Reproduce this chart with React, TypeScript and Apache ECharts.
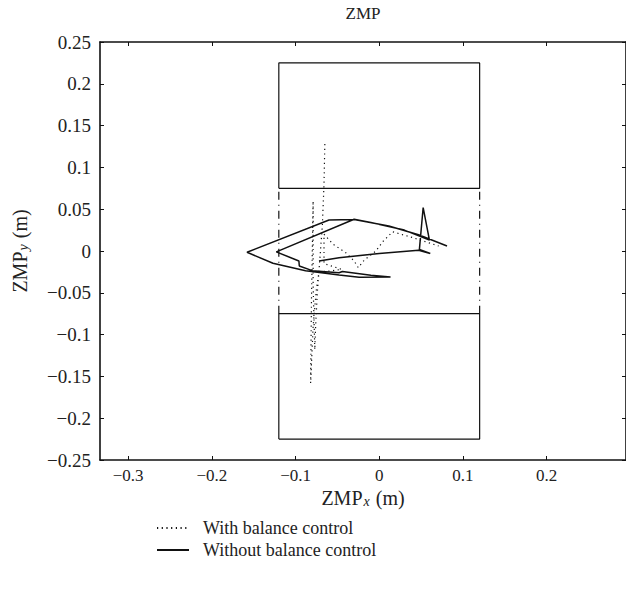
import { useEffect, useRef } from 'react';
import * as echarts from 'echarts';

// Axis extents and tick values (metres)
const xRange = [-0.3337, 0.2949];
const yRange = [-0.25, 0.25];
const xTicks = [-0.3, -0.2, -0.1, 0, 0.1, 0.2];
const yTicks = [-0.25, -0.2, -0.15, -0.1, -0.05, 0, 0.05, 0.1, 0.15, 0.2, 0.25];

// Foot outlines
const footTop = [[-0.12, 0.075], [0.12, 0.075], [0.12, 0.225], [-0.12, 0.225], [-0.12, 0.075]];
const footBottom = [[-0.12, -0.225], [0.12, -0.225], [0.12, -0.075], [-0.12, -0.075], [-0.12, -0.225]];
const supportLeft = [[-0.12, -0.075], [-0.12, 0.075]];
const supportRight = [[0.12, -0.075], [0.12, 0.075]];

// ZMP trajectories
const withControl = [
  [-0.065, 0.128], [-0.066, 0.08], [-0.068, 0.03], [-0.071, -0.01], [-0.074, -0.05],
  [-0.076, -0.09], [-0.077, -0.118], [-0.078, -0.08], [-0.079, -0.04], [-0.079, 0.0],
  [-0.079, 0.06], [-0.08, 0.0], [-0.081, -0.06], [-0.082, -0.158], [-0.079, -0.09],
  [-0.075, -0.045], [-0.072, -0.025], [-0.06, -0.024], [-0.045, -0.022], [-0.066, -0.015],
  [-0.066, 0.02], [-0.055, 0.008], [-0.04, -0.002], [-0.03, -0.012], [-0.025, -0.02],
  [-0.018, -0.011], [-0.004, 0.0], [0.005, 0.012], [0.016, 0.023], [0.04, 0.016], [0.071, 0.006],
];
const withoutControl = [
  [-0.072, -0.012], [-0.048, -0.008], [0.0, -0.003], [0.047, 0.001], [0.061, -0.003],
  [0.048, 0.002], [0.0525, 0.052], [0.06, 0.013], [0.03, 0.025], [-0.01, 0.034],
  [-0.03, 0.038], [-0.123, -0.001], [-0.096, -0.012], [-0.0955, -0.018], [-0.08, -0.0235],
  [-0.048, -0.026], [-0.044, -0.0245], [-0.01, -0.029], [0.0135, -0.031], [-0.024, -0.0315],
  [-0.048, -0.0286], [-0.088, -0.0235], [-0.127, -0.0147], [-0.158, -0.0015], [-0.06, 0.037],
  [-0.03, 0.0378], [0.0115, 0.03], [0.047, 0.0195], [0.081, 0.006],
];

const FONT = '"Liberation Serif", "DejaVu Serif", serif';
const INK = '#111';
const TXT = '#222';
const fmt = (v: number) => String(v).replace('-', '\u2212');

export default function App() {
  const ref = useRef<HTMLDivElement>(null);
  useEffect(() => {
    if (!ref.current) return;
    const chart = echarts.init(ref.current, undefined, { renderer: 'svg' });
    const rich = {
      a: { fontFamily: FONT, fontSize: 20, color: TXT, lineHeight: 20, verticalAlign: 'middle' as const },
      s: { fontFamily: FONT, fontSize: 14, fontStyle: 'italic' as const, color: TXT, lineHeight: 14, verticalAlign: 'bottom' as const, padding: [0, 1, 0, 1] },
    };
    const axisCommon = {
      type: 'value' as const,
      axisLine: { show: true, onZero: false, lineStyle: { color: INK, width: 1.6 } },
      splitLine: { show: false },
      nameMoveOverlap: false,
    };
    const rectLine = (name: string, data: number[][], type: any) => ({
      name,
      type: 'line' as const,
      data,
      symbol: 'none',
      silent: true,
      lineStyle: { color: INK, width: 1.2, type },
      z: 1,
    });
    chart.setOption({
      animation: false,
      textStyle: { fontFamily: FONT },
      grid: { left: 100, right: -2, top: 41.5, bottom: 129 },
      legend: {
        data: ['With balance control', 'Without balance control'],
        orient: 'vertical',
        left: 151,
        top: 514,
        itemWidth: 32,
        itemHeight: 12,
        itemGap: 4,
        itemStyle: { opacity: 0 },
        textStyle: { fontFamily: FONT, fontSize: 18, color: TXT, padding: [0, 0, 0, 9] },
      },
      xAxis: [
        {
          ...axisCommon,
          min: xRange[0],
          max: xRange[1],
          position: 'bottom',
          axisTick: { show: true, inside: true, length: 4, customValues: xTicks, lineStyle: { color: INK } },
          axisLabel: { customValues: xTicks, formatter: fmt, fontFamily: FONT, fontSize: 17, color: TXT, margin: 7 },
          name: '{a|ZMP}{s|x}{a| (m)}',
          nameLocation: 'middle',
          nameGap: 28,
          nameTextStyle: { rich },
        },
        {
          ...axisCommon,
          min: xRange[0],
          max: xRange[1],
          position: 'top',
          axisTick: { show: true, inside: true, length: 4, customValues: xTicks, lineStyle: { color: INK } },
          axisLabel: { show: false },
          name: 'ZMP',
          nameLocation: 'middle',
          nameGap: 20,
          nameTextStyle: { fontFamily: FONT, fontSize: 17, color: TXT },
        },
      ],
      yAxis: [
        {
          ...axisCommon,
          min: yRange[0],
          max: yRange[1],
          position: 'left',
          axisTick: { show: true, inside: true, length: 4, customValues: yTicks, lineStyle: { color: INK } },
          axisLabel: { customValues: yTicks, formatter: fmt, fontFamily: FONT, fontSize: 19, color: TXT, margin: 9 },
          name: '{a|ZMP}{s|y}{a| (m)}',
          nameLocation: 'middle',
          nameGap: 70,
          nameTextStyle: { rich },
        },
        {
          ...axisCommon,
          min: yRange[0],
          max: yRange[1],
          position: 'right',
          axisTick: { show: true, inside: true, length: 4, customValues: yTicks, lineStyle: { color: INK } },
          axisLabel: { show: false },
        },
      ],
      series: [
        rectLine('footTop', footTop, 'solid'),
        rectLine('footBottom', footBottom, 'solid'),
        rectLine('supportLeft', supportLeft, [8, 5, 1, 5]),
        rectLine('supportRight', supportRight, [8, 5, 1, 5]),
        {
          name: 'Without balance control',
          type: 'line',
          data: withoutControl,
          symbol: 'none',
          itemStyle: { color: INK },
          lineStyle: { color: INK, width: 1.5, type: 'solid' },
          z: 3,
        },
        {
          name: 'With balance control',
          type: 'line',
          data: withControl,
          symbol: 'none',
          itemStyle: { color: INK },
          lineStyle: { color: INK, width: 1.2, type: [1.2, 3.5] },
          z: 4,
        },
      ],
    });
    return () => chart.dispose();
  }, []);
  return <div ref={ref} style={{ position: 'fixed', left: 0, top: 0, width: 626, height: 589, background: '#fff' }} />;
}
